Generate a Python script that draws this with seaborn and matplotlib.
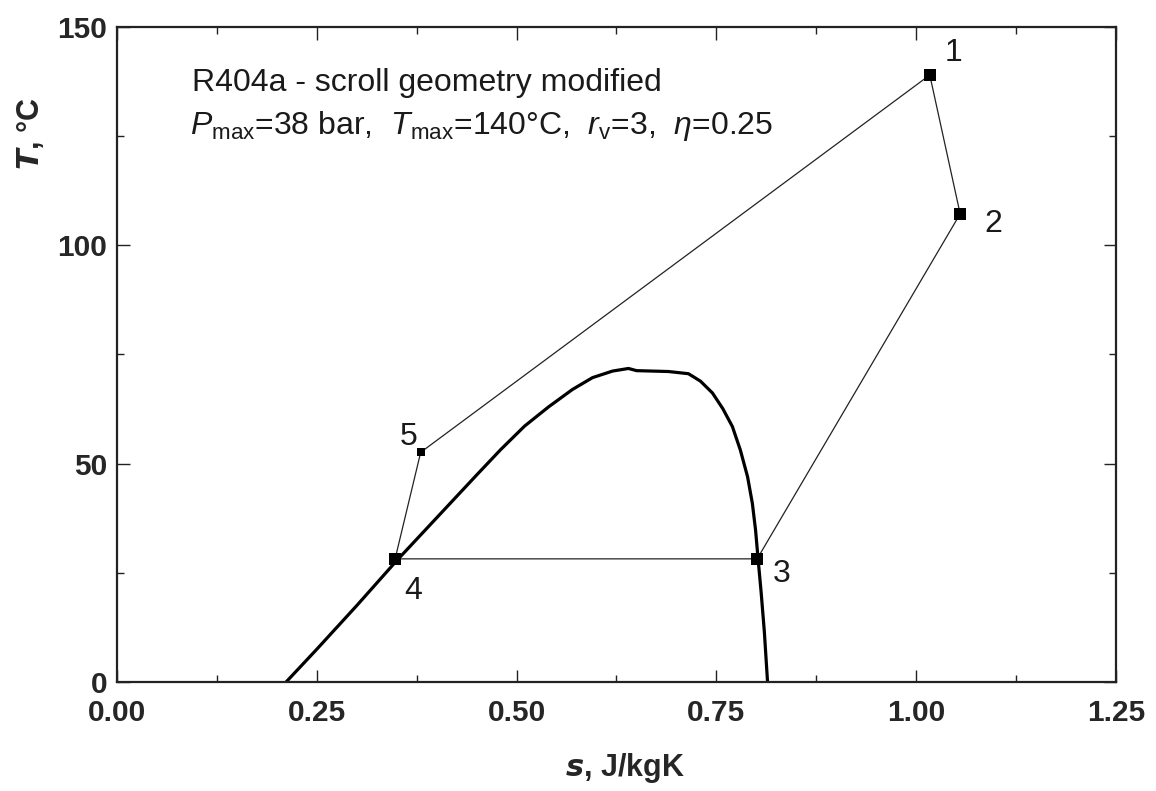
import matplotlib
matplotlib.use("Agg")
import matplotlib.pyplot as plt
from matplotlib.ticker import MultipleLocator, FormatStrFormatter
import seaborn as sns
import pandas as pd

# Saturation dome of R404a (entropy s, temperature T)
dome_s = [0.2116, 0.25, 0.30, 0.35, 0.40, 0.45, 0.48, 0.51, 0.54, 0.57,
          0.595, 0.62, 0.64, 0.65, 0.69, 0.715, 0.73, 0.745, 0.758, 0.770,
          0.780, 0.789, 0.795, 0.799, 0.802, 0.806, 0.810, 0.814]
dome_T = [0.0, 7.5, 17.5, 27.8, 37.6, 47.4, 53.2, 58.6, 63.0, 67.0,
          69.7, 71.2, 71.8, 71.3, 71.1, 70.6, 68.9, 66.2, 62.6, 58.5,
          53.1, 47.0, 40.9, 34.8, 28.5, 20.5, 11.5, 0.0]

# Cycle state points 1..5
state_labels = ["1", "2", "3", "4", "5"]
state_s = [1.017, 1.055, 0.801, 0.348, 0.380]
state_T = [139.0, 107.2, 28.2, 28.2, 52.6]
# Order in which the states are connected
cycle_order = ["1", "2", "3", "4", "5", "1"]

x_ticks = [0.00, 0.25, 0.50, 0.75, 1.00, 1.25]
y_ticks = [0, 50, 100, 150]

title_line1 = "R404a - scroll geometry modified"
title_line2 = (r"$P_{\rm max}$=38 bar,  $T_{\rm max}$=140°C,  "
               r"$r_{\rm v}$=3,  $\eta$=0.25")

sns.set_theme(style="ticks")
plt.rcParams["font.family"] = ["Liberation Sans", "DejaVu Sans"]
plt.rcParams["mathtext.fontset"] = "custom"
plt.rcParams["mathtext.rm"] = "Liberation Sans"
plt.rcParams["mathtext.it"] = "Liberation Sans:italic"
plt.rcParams["mathtext.bf"] = "Liberation Sans:bold"

fig = plt.figure(figsize=(11.56, 7.91), dpi=100)
ax = fig.add_axes([0.1012, 0.1378, 0.8642, 0.8281])

dome = pd.DataFrame({"s": dome_s, "T": dome_T})
sns.lineplot(data=dome, x="s", y="T", sort=False, estimator=None,
             color="black", linewidth=2.3, ax=ax)

states = pd.DataFrame({"label": state_labels, "s": state_s, "T": state_T})
cyc = states.set_index("label").loc[cycle_order].reset_index()
sns.lineplot(data=cyc, x="s", y="T", sort=False, estimator=None,
             color="#222222", linewidth=0.9, ax=ax)

main = states[states["label"] != "5"]
sns.scatterplot(data=main, x="s", y="T", marker="s", s=80, color="black",
                edgecolor="black", linewidth=0, ax=ax, zorder=5)
sns.scatterplot(data=states[states["label"] == "5"], x="s", y="T", marker="s",
                s=40, color="black", edgecolor="black", linewidth=0, ax=ax,
                zorder=5)

# Offsets (points) of the state numbers from their markers
offsets = {"1": (17, 16), "2": (24, -7), "3": (18, -11),
           "4": (13, -23), "5": (-9, 11)}
for lab, sv, tv in zip(state_labels, state_s, state_T):
    ax.annotate(lab, (sv, tv), xytext=offsets[lab], textcoords="offset points",
                ha="center", va="center", fontsize=23, color="#1a1a1a")

ax.text(0.0755, 0.902, title_line1, transform=ax.transAxes, fontsize=23,
        color="#1a1a1a", ha="left", va="baseline")
ax.text(0.0735, 0.837, title_line2, transform=ax.transAxes, fontsize=23,
        color="#1a1a1a", ha="left", va="baseline")

ax.set_xlim(0, 1.25)
ax.set_ylim(0, 150)
ax.set_xticks(x_ticks)
ax.set_yticks(y_ticks)
ax.xaxis.set_minor_locator(MultipleLocator(0.125))
ax.yaxis.set_minor_locator(MultipleLocator(25))
ax.xaxis.set_major_formatter(FormatStrFormatter("%.2f"))
ax.tick_params(which="both", direction="in", top=True, right=True,
               color="#222222", width=1.0)
ax.tick_params(which="major", length=9, labelsize=21.5)
ax.tick_params(axis="x", which="major", pad=12)
ax.tick_params(axis="y", which="major", pad=7)
ax.tick_params(which="minor", length=5)
for lbl in ax.get_xticklabels() + ax.get_yticklabels():
    lbl.set_fontweight("bold")
for sp in ax.spines.values():
    sp.set_linewidth(1.6)
    sp.set_color("#222222")
    sp.set_visible(True)

ax.set_xlabel(r"$\mathbfit{s}$, J/kgK", fontsize=22, fontweight="bold")
ax.set_ylabel(r"$\mathbfit{T}$, °C", fontsize=22, fontweight="bold")
ax.xaxis.label.set_va("center")
ax.yaxis.label.set_va("center")
ax.xaxis.set_label_coords(0.508, -0.131)
ax.yaxis.set_label_coords(-0.087, 0.838)

fig.savefig("out.png", dpi=100)
